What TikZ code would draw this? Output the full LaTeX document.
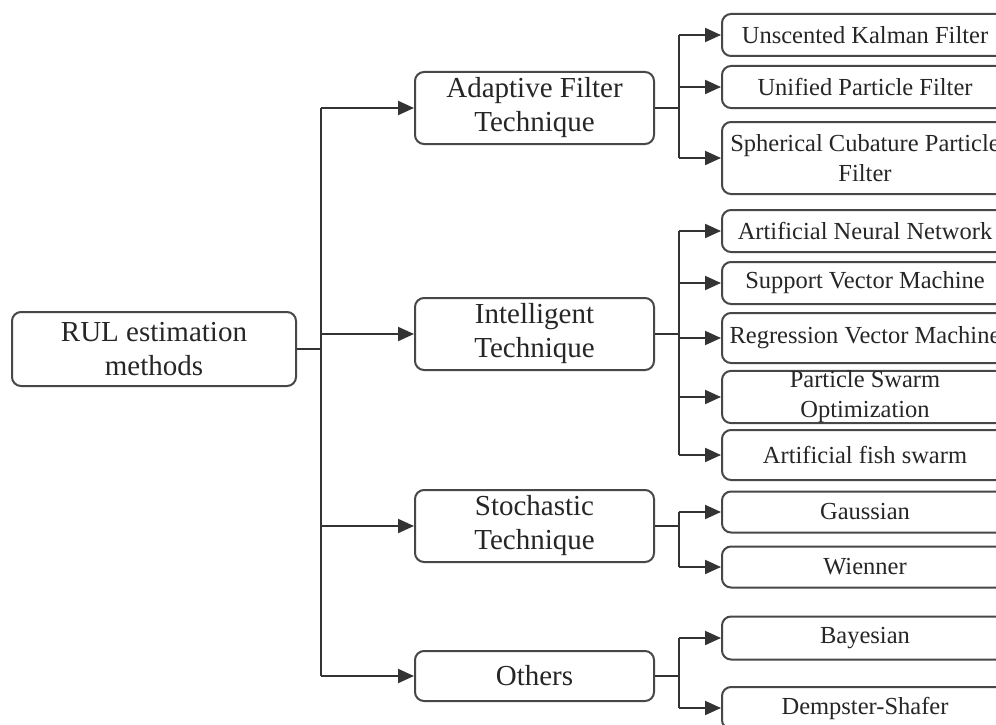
\documentclass[tikz,border=0pt]{standalone}
\usepackage{fontspec}
\setmainfont{Liberation Serif}
\usetikzlibrary{arrows.meta}
\begin{document}
\begin{tikzpicture}[x=1pt,y=-1pt,
  box/.style={draw=black!72, line width=2pt, rounded corners=9pt, fill=white, align=center, text=black!85, inner sep=0pt},
  midbox/.style={box, minimum width=239pt, minimum height=72pt, font=\fontsize{29}{34}\selectfont},
  leaf/.style={box, minimum width=286pt, font=\fontsize{24.5}{30}\selectfont},
  conn/.style={line width=2pt, draw=black!80},
  arr/.style={conn, -{Triangle[length=16pt,width=14pt]}}]
\useasboundingbox (0,0) rectangle (996,725);
\clip (0,0) rectangle (996,725);
% root
\node[box, minimum width=284pt, minimum height=74pt, font=\fontsize{29}{34}\selectfont] (root) at (154,349) {RUL estimation\\methods};
% middle level
\node[midbox] (adapt) at (534.5,108) {Adaptive Filter\\Technique};
\node[midbox] (intel) at (534.5,334) {Intelligent\\Technique};
\node[midbox] (stoch) at (534.5,526) {Stochastic\\Technique};
\node[midbox, minimum height=50pt] (oth) at (534.5,676) {Others};
% leaves
\node[leaf, minimum height=42pt] (ukf) at (865,35) {Unscented Kalman Filter};
\node[leaf, minimum height=42pt] (upf) at (865,87) {Unified Particle Filter};
\node[leaf, minimum height=72pt] (scp) at (865,158) {Spherical Cubature Particle\\Filter};
\node[leaf, minimum height=42pt] (ann) at (865,231) {Artificial Neural Network};
\node[leaf, minimum height=42pt] (svm) at (865,283) {Support Vector Machine};
\node[leaf, minimum height=50pt] (rvm) at (865,338) {Regression Vector Machine};
\node[leaf, minimum height=50pt] (pso) at (865,397) {Particle Swarm\\Optimization};
\node[leaf, minimum height=50pt] (afs) at (865,455) {Artificial fish swarm};
\node[leaf, minimum height=41pt] (gau) at (865,512) {Gaussian};
\node[leaf, minimum height=41pt] (wie) at (865,567) {Wienner};
\node[leaf, minimum height=43pt] (bay) at (865,638) {Bayesian};
\node[leaf, minimum height=42pt] (dem) at (865,708) {Dempster-Shafer};
% trunk
\coordinate (tr) at (321,349);
\coordinate (ta) at (321,108);
\coordinate (ti) at (321,334);
\coordinate (ts) at (321,526);
\coordinate (to) at (321,676);
\draw[conn] (root.east) -- (tr);
\draw[conn] (ta) -- (to);
\draw[arr] (ta) -- (adapt.west);
\draw[arr] (ti) -- (intel.west);
\draw[arr] (ts) -- (stoch.west);
\draw[arr] (to) -- (oth.west);
% adaptive branch
\coordinate (ba) at (679,108);
\coordinate (ba1) at (679,35);
\coordinate (ba2) at (679,87);
\coordinate (ba3) at (679,158);
\draw[conn] (adapt.east) -- (ba);
\draw[conn] (ba1) -- (ba3);
\draw[arr] (ba1) -- (ukf.west);
\draw[arr] (ba2) -- (upf.west);
\draw[arr] (ba3) -- (scp.west);
% intelligent branch
\coordinate (bi) at (679,334);
\coordinate (bi1) at (679,231);
\coordinate (bi2) at (679,283);
\coordinate (bi3) at (679,338);
\coordinate (bi4) at (679,397);
\coordinate (bi5) at (679,455);
\draw[conn] (intel.east) -- (bi);
\draw[conn] (bi1) -- (bi5);
\draw[arr] (bi1) -- (ann.west);
\draw[arr] (bi2) -- (svm.west);
\draw[arr] (bi3) -- (rvm.west);
\draw[arr] (bi4) -- (pso.west);
\draw[arr] (bi5) -- (afs.west);
% stochastic branch
\coordinate (bs) at (679,526);
\coordinate (bs1) at (679,512);
\coordinate (bs2) at (679,567);
\draw[conn] (stoch.east) -- (bs);
\draw[conn] (bs1) -- (bs2);
\draw[arr] (bs1) -- (gau.west);
\draw[arr] (bs2) -- (wie.west);
% others branch
\coordinate (bo) at (679,676);
\coordinate (bo1) at (679,638);
\coordinate (bo2) at (679,708);
\draw[conn] (oth.east) -- (bo);
\draw[conn] (bo1) -- (bo2);
\draw[arr] (bo1) -- (bay.west);
\draw[arr] (bo2) -- (dem.west);
\end{tikzpicture}
\end{document}
